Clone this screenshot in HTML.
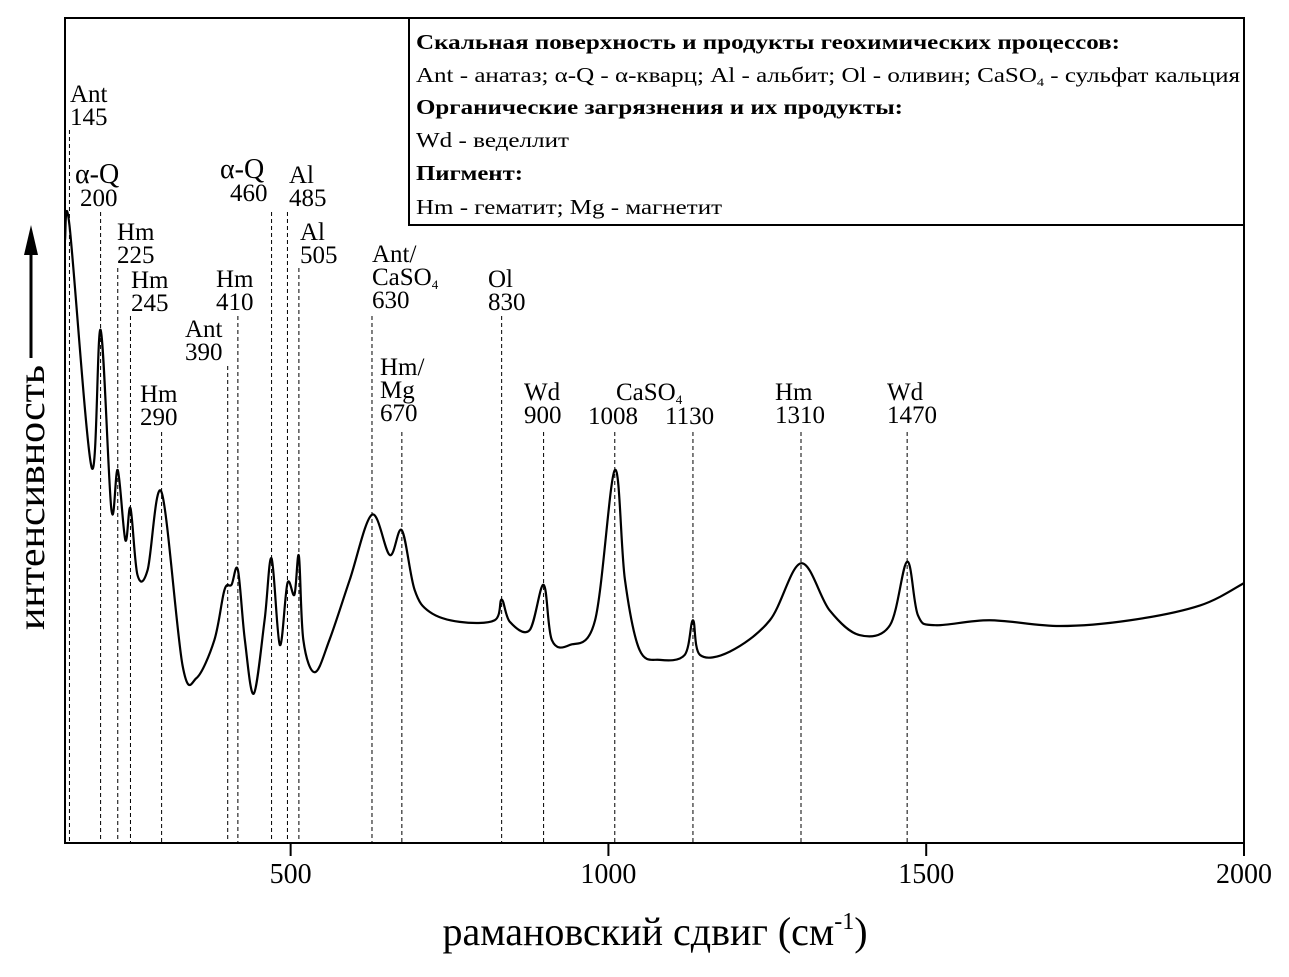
<!DOCTYPE html>
<html><head><meta charset="utf-8">
<style>
body{margin:0;background:#fff;}
svg text{font-family:"Liberation Serif",serif;fill:#000;}
</style></head>
<body>
<svg id="chart" width="1289" height="972" xmlns="http://www.w3.org/2000/svg">
<rect x="0" y="0" width="1289" height="972" fill="#fff"/>
<g id="marks"></g>
<rect x="65" y="18" width="1179" height="825" fill="none" stroke="#000" stroke-width="2"/>
<g>
<rect x="409" y="18" width="835" height="207" fill="#fff" stroke="#000" stroke-width="2"/>
<text x="416" y="49" font-size="21" font-weight="bold" textLength="704" lengthAdjust="spacingAndGlyphs">Скальная поверхность и продукты геохимических процессов:</text>
<text x="416" y="82" font-size="21" textLength="824" lengthAdjust="spacingAndGlyphs">Ant - анатаз; α-Q - α-кварц; Al - альбит; Ol - оливин; CaSO<tspan font-size="12" dy="4">4</tspan><tspan dy="-4"> - сульфат кальция</tspan></text>
<text x="416" y="114" font-size="21" font-weight="bold" textLength="487" lengthAdjust="spacingAndGlyphs">Органические загрязнения и их продукты:</text>
<text x="416" y="147" font-size="21" textLength="153" lengthAdjust="spacingAndGlyphs">Wd - веделлит</text>
<text x="416" y="180" font-size="21" font-weight="bold" textLength="107" lengthAdjust="spacingAndGlyphs">Пигмент:</text>
<text x="416" y="214" font-size="21" textLength="306" lengthAdjust="spacingAndGlyphs">Hm - гематит; Mg - магнетит</text>
</g>
<g>
<text transform="translate(44,630) rotate(-90)" font-size="38" textLength="265" lengthAdjust="spacingAndGlyphs">интенсивность</text>
<line x1="31" y1="358" x2="31" y2="250" stroke="#000" stroke-width="3"/>
<polygon points="31,225 24,255 38,255" fill="#000"/>
</g>
<text x="655" y="945" font-size="40" text-anchor="middle">рамановский сдвиг (см<tspan font-size="24" dy="-16">-1</tspan><tspan dy="16">)</tspan></text>
</svg>
<script>
const shifts=[145,152,187,201,218,228,240,248,259,275,297,330,352,380,396,407,417,428,442,459,470,483,495,506,513,520,538,561,593,628,656,675,695,719,766,821,832,845,876,898,911,939,979,1010,1026,1049,1081,1120,1133,1144,1191,1254,1303,1348,1395,1443,1470,1487,1514,1600,1710,1821,1931,2000];
const intensity=[73.1,74.9,45.5,62.2,40.4,45.2,36.7,40.6,32.5,33.1,42.5,21.5,20.0,24.6,30.7,31.3,33.1,24.6,18.1,27.0,34.5,24.0,31.5,30.1,34.8,24.6,20.7,24.6,31.9,39.8,34.9,37.9,30.7,28.0,26.8,27.0,29.5,26.8,25.8,31.3,24.6,24.0,27.0,45.2,31.9,23.4,22.2,22.8,27.0,22.8,23.2,27.0,33.9,28.2,25.2,26.4,34.1,27.6,26.4,27.0,26.3,27.0,28.8,31.5];
const tickValues=[500,1000,1500,2000];
const peakLabels=["145","200","225","245","290","390","410","460","485","505","630","670","830","900","1008","1130","1310","1470"];
const peakPositions=[152,201,228,248,297,401,417,470,495,513,628,675,832,898,1010,1133,1303,1470];
const peakNames=["Ant","α-Q","Hm","Hm","Hm","Ant","Hm","α-Q","Al","Al","Ant/|CaSO4","Hm/|Mg","Ol","Wd","","","Hm","Wd"];
const labelNameX=[70,75,117,131,140,185,216,220,289,300,372,380,488,524,0,0,775,887];
const labelValX=[70,80,117,131,140,185,216,230,289,300,372,380,488,524,588,665,775,887];
const labelBase=[102,183,240,288,402,337,287,178,183,240,262,375,287,400,400,400,400,400];
const lineTop=[130,212,268,316,432,366,316,212,212,268,316,432,316,432,432,432,432,432];

const X0=145,X1=2000,PX0=65,PX1=1244,PY0=843,PY1=18;
const xs=v=>PX0+(v-X0)/(X1-X0)*(PX1-PX0);
const ys=v=>PY0-v/100*(PY0-PY1);
const NS="http://www.w3.org/2000/svg";
const svg=document.getElementById('chart');
const g=document.getElementById('marks');
function mk(t,a,parent){const e=document.createElementNS(NS,t);for(const k in a)e.setAttribute(k,a[k]);(parent||g).appendChild(e);return e;}

tickValues.forEach(v=>{
  const t=mk('line',{x1:xs(v),x2:xs(v),y1:843,y2:856,stroke:'#000','stroke-width':2},svg);
  
  
  const l=mk('text',{x:xs(v),y:883,'font-size':28,'text-anchor':'middle'},svg);
  l.textContent=v;
  
  
});

peakPositions.forEach((s,i)=>{
  const x=xs(s);
  const dl=mk('line',{x1:x,x2:x,y1:lineTop[i],y2:843,stroke:'#000','stroke-width':1,'stroke-dasharray':'4,3'});
  
  
  const parts=peakNames[i]?peakNames[i].split('|'):[];
  parts.forEach((p,j)=>{
    const isQ=p==='α-Q';
    const t=mk('text',{x:labelNameX[i],y:labelBase[i]+j*23,'font-size':isQ?28:25});
    if(p.indexOf('CaSO4')>=0){t.textContent='CaSO';const sb=mk('tspan',{'font-size':13,dy:4},t);sb.textContent='4';}
    else t.textContent=p;
    
    
  });
  const vb=parts.length?labelBase[i]+parts.length*23:labelBase[i]+24;
  const n=mk('text',{x:labelValX[i],y:vb,'font-size':25});
  n.textContent=peakLabels[i];
  
  
});
const cl=mk('text',{x:616,y:400,'font-size':25});
cl.textContent='CaSO';
const cs=mk('tspan',{'font-size':13,dy:4},cl);cs.textContent='4';



const pts=shifts.map((s,i)=>[xs(s),ys(intensity[i])]);
let d='M'+pts[0][0]+','+pts[0][1];
for(let i=0;i<pts.length-1;i++){
  const p0=pts[Math.max(0,i-1)],p1=pts[i],p2=pts[i+1],p3=pts[Math.min(pts.length-1,i+2)];
  const c1=[p1[0]+(p2[0]-p0[0])/6,p1[1]+(p2[1]-p0[1])/6];
  const c2=[p2[0]-(p3[0]-p1[0])/6,p2[1]-(p3[1]-p1[1])/6];
  d+=' C'+c1[0]+','+c1[1]+' '+c2[0]+','+c2[1]+' '+p2[0]+','+p2[1];
}
const path=mk('path',{d:d,fill:'none',stroke:'#000','stroke-width':2.2});


</script>
</body></html>
